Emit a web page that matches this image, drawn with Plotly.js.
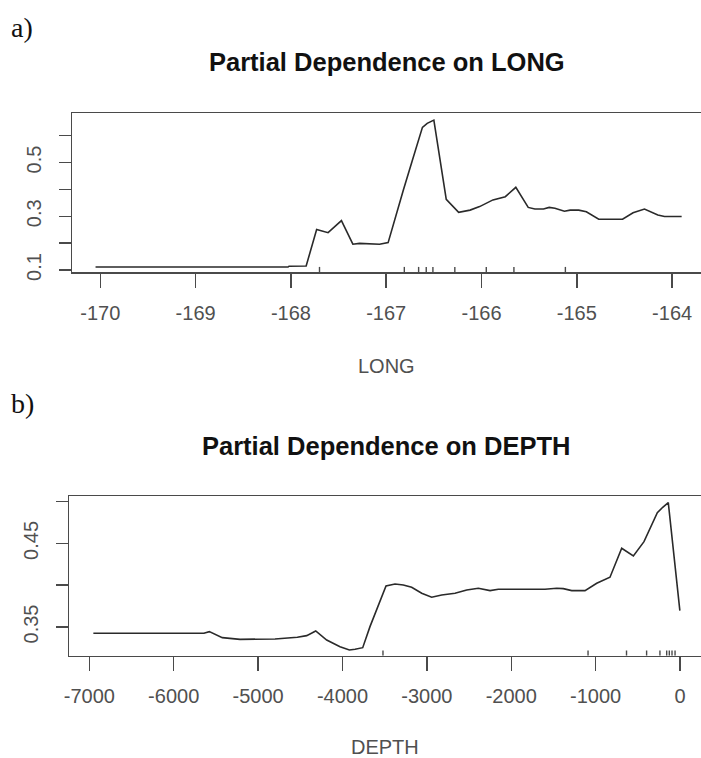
<!DOCTYPE html>
<html>
<head>
<meta charset="utf-8">
<script src="https://cdn.plot.ly/plotly-3.0.1.min.js"></script>
<style>
html,body{margin:0;padding:0;background:#fff;overflow:hidden;}
#chart{width:706px;height:758px;}
</style>
</head>
<body>
<div id="chart"></div>
<script>
// ---- Panel a: Partial dependence on LONG ----
const longX = [-170.05, -168.03, -168.02, -167.84, -167.73, -167.61, -167.47, -167.35, -167.28, -167.17,
  -167.07, -166.98, -166.91, -166.82, -166.73, -166.62, -166.57, -166.50, -166.37, -166.31,
  -166.24, -166.12, -166.02, -165.88, -165.75, -165.64, -165.51, -165.44, -165.35, -165.29,
  -165.23, -165.13, -165.07, -164.98, -164.90, -164.77, -164.65, -164.52, -164.41, -164.29,
  -164.15, -164.08, -163.90];
const longY = [0.111, 0.111, 0.114, 0.115, 0.251, 0.239, 0.284, 0.196, 0.199, 0.196,
  0.196, 0.202, 0.292, 0.398, 0.503, 0.631, 0.646, 0.658, 0.363, 0.342,
  0.315, 0.323, 0.336, 0.361, 0.373, 0.408, 0.333, 0.327, 0.327, 0.333,
  0.330, 0.319, 0.323, 0.323, 0.317, 0.289, 0.289, 0.289, 0.313, 0.327,
  0.305, 0.299, 0.299];
const longRug = [-167.70, -166.81, -166.66, -166.58, -166.51, -166.28, -165.95, -165.66, -165.12];
const longXTicks = [-170, -169, -168, -167, -166, -165, -164];
const longYTicks = [0.1, 0.2, 0.3, 0.4, 0.5, 0.6];
const longYTickText = ['0.1', '', '0.3', '', '0.5', ''];

// ---- Panel b: Partial dependence on DEPTH ----
const depthX = [-6952, -5642, -5578, -5510, -5424, -5214, -4799, -4535, -4424, -4317,
  -4187, -4029, -3918, -3851, -3760, -3674, -3484, -3377, -3279, -3180,
  -3061, -2943, -2824, -2666, -2528, -2390, -2251, -2153, -1896, -1600,
  -1461, -1383, -1283, -1126, -987, -830, -691, -553, -427, -269,
  -205, -139, -2];
const depthY = [0.3424, 0.3424, 0.3444, 0.3413, 0.3372, 0.3352, 0.3356, 0.3377, 0.3396, 0.3452,
  0.3344, 0.3264, 0.3225, 0.3233, 0.3252, 0.3504, 0.3991, 0.4015, 0.4003, 0.3975,
  0.3903, 0.3856, 0.3883, 0.3903, 0.3943, 0.3963, 0.3935, 0.3951, 0.3951, 0.3951,
  0.3963, 0.3959, 0.3935, 0.3935, 0.4023, 0.4095, 0.4442, 0.4350, 0.4521, 0.4868,
  0.4933, 0.4988, 0.3695];
const depthRug = [-3520, -1090, -634, -396, -238, -158, -127, -95, -59];
const depthXTicks = [-7000, -6000, -5000, -4000, -3000, -2000, -1000, 0];
const depthYTicks = [0.35, 0.40, 0.45, 0.50];
const depthYTickText = ['0.35', '', '0.45', ''];

const W = 706, H = 758;
const lineCol = '#2a2a2a';
const axCol = '#4a4a4a';
const tickFont = {family: 'Liberation Sans, Arial, sans-serif', size: 20, color: '#505050'};

function rugSegs(vals, len) {
  const x = [], y = [];
  vals.forEach(v => { x.push(v, v, null); y.push(0, len, null); });
  return {x, y};
}
const rugA = rugSegs(longRug, 0.032);
const rugB = rugSegs(depthRug, 0.032);

const traces = [
  {x: longX, y: longY, xaxis: 'x', yaxis: 'y', mode: 'lines', line: {color: lineCol, width: 1.6}, hoverinfo: 'skip'},
  {x: rugA.x, y: rugA.y, xaxis: 'x', yaxis: 'y3', mode: 'lines', line: {color: axCol, width: 1.4}, hoverinfo: 'skip'},
  {x: depthX, y: depthY, xaxis: 'x2', yaxis: 'y2', mode: 'lines', line: {color: lineCol, width: 1.6}, hoverinfo: 'skip'},
  {x: rugB.x, y: rugB.y, xaxis: 'x2', yaxis: 'y4', mode: 'lines', line: {color: axCol, width: 1.4}, hoverinfo: 'skip'}
];

function xAx(domain, range, ticks) {
  return {domain, range, tickmode: 'array', tickvals: ticks, ticktext: ticks.map(String),
    ticks: 'outside', ticklen: 14, tickwidth: 1.5, tickcolor: axCol,
    showline: true, mirror: true, linecolor: axCol, linewidth: 1.5,
    showgrid: false, zeroline: false, tickfont: tickFont, ticklabelstandoff: 8, fixedrange: true};
}
function yAx(domain, range, ticks, text, anchor) {
  return {domain, range, anchor, tickmode: 'array', tickvals: ticks, ticktext: text,
    ticks: 'outside', ticklen: 12, tickwidth: 1.5, tickcolor: axCol,
    showline: true, mirror: true, linecolor: axCol, linewidth: 1.5,
    showgrid: false, zeroline: false, tickfont: tickFont, tickangle: -90, ticklabelstandoff: 10, fixedrange: true};
}

const layout = {
  width: W, height: H,
  margin: {l: 0, r: 0, t: 0, b: 0},
  paper_bgcolor: '#fff', plot_bgcolor: '#fff',
  showlegend: false,
  xaxis: Object.assign(xAx([72 / W, 705 / W], [-170.297, -163.655], longXTicks), {anchor: 'y'}),
  yaxis: yAx([1 - 272 / H, 1 - 113 / H], [0.0926, 0.6845], longYTicks, longYTickText, 'x'),
  xaxis2: Object.assign(xAx([69.3 / W, 703.4 / W], [-7237, 277], depthXTicks), {anchor: 'y2'}),
  yaxis2: yAx([1 - 655.7 / H, 1 - 496 / H], [0.3156, 0.5068], depthYTicks, depthYTickText, 'x2'),
  yaxis3: {overlaying: 'y', anchor: 'x', range: [0, 1], visible: false, fixedrange: true},
  yaxis4: {overlaying: 'y2', anchor: 'x2', range: [0, 1], visible: false, fixedrange: true},
  annotations: [
    {text: 'a)', xref: 'paper', yref: 'paper', x: 9 / W, y: 1 - 28 / H, xanchor: 'left', yanchor: 'middle', showarrow: false,
      font: {family: 'Liberation Serif, Times New Roman, serif', size: 28, color: '#111'}},
    {text: 'b)', xref: 'paper', yref: 'paper', x: 9 / W, y: 1 - 403 / H, xanchor: 'left', yanchor: 'middle', showarrow: false,
      font: {family: 'Liberation Serif, Times New Roman, serif', size: 28, color: '#111'}},
    {text: '<b>Partial Dependence on LONG</b>', xref: 'paper', yref: 'paper', x: 386.5 / W, y: 1 - 62 / H, xanchor: 'center', yanchor: 'middle', showarrow: false,
      font: {family: 'Liberation Sans, Arial, sans-serif', size: 25.5, color: '#111'}},
    {text: '<b>Partial Dependence on DEPTH</b>', xref: 'paper', yref: 'paper', x: 385.7 / W, y: 1 - 446 / H, xanchor: 'center', yanchor: 'middle', showarrow: false,
      font: {family: 'Liberation Sans, Arial, sans-serif', size: 25.5, color: '#111'}},
    {text: 'LONG', xref: 'paper', yref: 'paper', x: 386 / W, y: 1 - 366 / H, xanchor: 'center', yanchor: 'middle', showarrow: false,
      font: {family: 'Liberation Sans, Arial, sans-serif', size: 20, color: '#505050'}},
    {text: 'DEPTH', xref: 'paper', yref: 'paper', x: 385 / W, y: 1 - 747 / H, xanchor: 'center', yanchor: 'middle', showarrow: false,
      font: {family: 'Liberation Sans, Arial, sans-serif', size: 20, color: '#505050'}}
  ]
};

Plotly.newPlot('chart', traces, layout, {staticPlot: true, displayModeBar: false});
</script>
</body>
</html>
